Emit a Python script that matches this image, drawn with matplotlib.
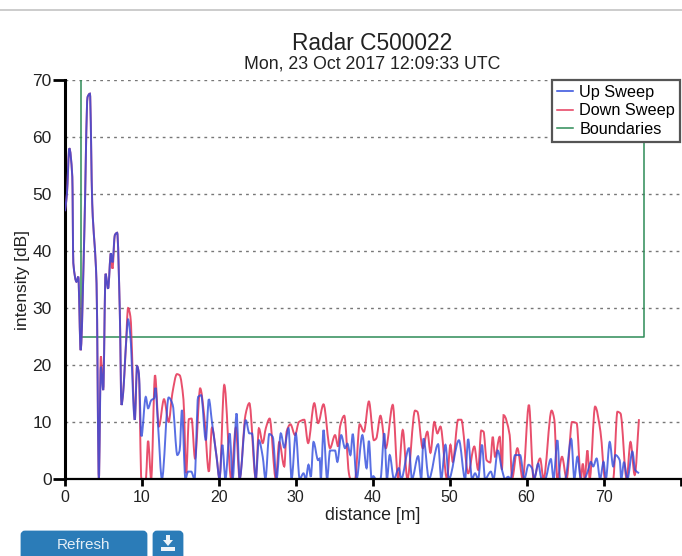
import matplotlib
matplotlib.use("Agg")
import matplotlib.pyplot as plt
from matplotlib.lines import Line2D
from matplotlib.patches import FancyBboxPatch, PathPatch, Polygon, Rectangle
from matplotlib.path import Path

plt.rcParams["font.family"] = ["Liberation Sans", "DejaVu Sans"]

# shared start of both sweeps
near_x = [0, 0.25, 0.56, 0.95, 1.08, 1.5, 1.73, 2.03, 2.5, 2.93, 3.24, 3.54, 4.1, 4.4]
near_y = [47, 50, 58, 53, 37.9, 34.6, 35.5, 22.6, 42.5, 67, 67.6, 48.3, 34.3, 0]

# up sweep
up_x = near_x + [4.66, 4.97, 5.27, 5.6, 5.96, 6.17, 6.48, 6.78, 7.12, 7.34, 7.55, 7.9, 8.2, 8.5, 9.07, 9.37, 9.6, 9.93,
                 10.5, 10.8, 11.2, 11.6, 11.75, 12.1, 12.6, 13.47, 14, 14.6, 14.9, 15.2, 15.65, 16, 16.4, 16.84,
                 17.3, 17.7, 18.3, 18.7, 19.1, 19.7, 20.08, 20.45, 20.85, 21.4, 21.8, 22.3, 22.7, 23.5, 23.96, 24.3,
                 24.8, 25.2, 25.7, 26.05, 26.55, 27, 27.5, 28.05, 28.5, 29.05, 29.45, 30, 30.5, 31, 31.3, 31.65,
                 31.95, 32.3, 32.9, 33.1, 33.25, 33.6, 34.07, 34.45, 35.1, 35.4, 35.9, 36.4, 36.7, 37.1, 37.4, 37.9,
                 38.65, 39.2, 39.5, 39.85, 40.07, 40.4, 41, 41.5, 41.85, 42.2, 42.75, 43.4, 43.7, 44.7, 45.1, 45.9,
                 46.3, 46.6, 47.3, 48.5, 48.9, 49.45, 49.9, 51.2, 52, 52.4, 52.9, 53.3, 53.7, 54.2, 54.6, 55.35,
                 55.7, 56.25, 56.8, 57.2, 57.6, 57.9, 58.5, 59.15, 59.7, 60.25, 60.7, 61, 61.5, 61.95, 62.4, 63.15,
                 63.5, 64, 64.35, 65, 65.8, 66.2, 66.6, 67.05, 67.5, 68, 68.35, 68.65, 69.1, 69.55, 70, 70.3, 70.8,
                 71.25, 71.55, 72.1, 72.3, 72.65, 73.1, 73.75, 74.1, 74.6]
up_y = near_y + [19.7, 15.6, 36, 33.4, 39.6, 38, 42.8, 43.2, 29.6, 13, 15, 23, 28, 25, 10.4, 19.8, 18.5, 7.5,
                 14.4, 12.4, 13.8, 14.2, 16, 9.3, 0, 14.3, 13, 4.2, 5, 12.1, 0, 1.3, 1.3, 0,
                 14.4, 14.7, 6.8, 14, 10, 3.9, 0, 6, 0, 8, 0, 11.5, 0, 10.3, 8, 8,
                 0, 6.8, 3.9, 0, 7.9, 7.4, 0, 8, 5.5, 8.9, 0, 8, 0, 1, 0, 2.5,
                 0.4, 6.5, 3.3, 3.6, 0, 8.6, 0, 5, 5, 3, 7.7, 5.4, 6.2, 4.2, 7.9, 0,
                 7.7, 1.9, 6.7, 0, 0.5, 0, 0, 8, 0, 4.2, 0, 1.9, 0, 5.4, 0, 4,
                 0, 7.1, 0, 6.1, 0, 6, 0, 6.8, 0, 7, 0, 1, 0, 6, 0, 1.3,
                 0, 5, 1.6, 0, 0.4, 0, 4.2, 4.2, 0, 2.5, 1.9, 0, 2.7, 0, 0, 3.5,
                 0, 6.8, 0, 0, 7, 0, 3.9, 0, 0, 1.6, 3, 2.2, 3.6, 0, 3, 0, 6.5,
                 2.2, 4.2, 3.3, 0, 2.9, 0, 4.8, 1.6, 1]

# down sweep
down_x = near_x + [4.66, 4.97, 5.27, 5.6, 5.96, 6.17, 6.48, 6.78, 7.12, 7.34, 7.55, 7.9, 8.2, 8.5, 9.07, 9.37, 9.6, 9.93,
                   10.5, 10.8, 11.2, 11.7, 12.2, 12.87, 13.47, 13.95, 14.55, 14.9, 15.4, 15.76, 16.1, 16.45, 16.9,
                   17.57, 18.1, 18.7, 19.1, 19.7, 20.08, 20.7, 21.6, 22.2, 22.7, 23.45, 23.96, 24.8, 25.2, 25.7, 26.1,
                   26.6, 27.4, 27.85, 28.5, 28.8, 29.3, 29.9, 30.4, 31.1, 31.6, 32.4, 32.9, 33.6, 34.45, 35.1, 35.5,
                   35.75, 36.3, 36.9, 37.1, 37.7, 38.3, 38.85, 39.5, 40.15, 40.45, 41, 41.7, 42.6, 43.3, 43.9, 44.5,
                   45.5, 45.8, 46.5, 47.1, 47.5, 48, 48.4, 48.8, 49.65, 50.1, 50.4, 51.1, 51.5, 52.4, 53.2, 53.7,
                   54.1, 54.4, 54.8, 55.27, 55.6, 55.9, 56.5, 56.8, 57, 57.8, 58.1, 58.8, 59.5, 60.3, 60.9, 61.75,
                   62.2, 63.25, 63.6, 64, 64.6, 65.2, 65.9, 66.5, 67.05, 67.3, 67.55, 67.9, 68.2, 68.9, 69.6, 70.2,
                   71.25, 71.8, 72.2, 73, 73.5, 74.05, 74.6]
down_y = near_y + [21.5, 15.6, 36, 33.4, 39.6, 36.9, 42.8, 43.2, 29.6, 13, 15, 23, 30, 28.5, 10.4, 19.8, 18.5, 0,
                   0, 6.7, 0, 18.2, 9.2, 14, 10, 15, 18.4, 18.2, 13.9, 1, 10.5, 10.6, 3.6,
                   15.9, 11, 1.3, 9, 3.9, 0, 16.5, 0, 9, 0, 11.2, 13.3, 0, 8.9, 6.3, 8.9,
                   10.6, 0, 6.5, 2.2, 8.3, 9.6, 7.7, 10, 10.4, 6.3, 13.3, 9.8, 13.1, 5.4, 7.7, 5.7,
                   9.2, 11.1, 1, 0, 0, 9.6, 8.3, 13.6, 6.8, 7.1, 11.1, 5.4, 13, 0, 8.6, 0,
                   12, 11.8, 5.4, 8.3, 4.6, 10, 8, 9.2, 0, 6, 3, 10.4, 10.4, 1, 5.7, 1.6,
                   8.5, 8.3, 3.3, 2.9, 7.4, 3.9, 7.4, 1.6, 11.2, 7.7, 0, 5.4, 0, 13, 0, 3.6,
                   0, 12, 10.4, 0, 3.9, 0, 10, 9.8, 0, 2.7, 0, 5, 0, 12.7, 8.3, 0,
                   0, 11.8, 11.5, 0, 6.5, 0.7, 10.5]

bound_x = [2.1, 2.1, 75.3, 75.3]
bound_y = [70, 25, 25, 70]

x_ticks = [0, 10, 20, 30, 40, 50, 60, 70, 80]
x_labels = ["0", "10", "20", "30", "40", "50", "60", "70", ""]
y_ticks = [0, 10, 20, 30, 40, 50, 60, 70]

UP_COLOR = "#2f4bdc"
DOWN_COLOR = "#e63c5c"
BOUND_COLOR = "#2e8b57"


def curve(xs, ys):
    # bezier path through the points, flat at every peak and valley
    slopes = [(ys[i + 1] - ys[i]) / (xs[i + 1] - xs[i]) for i in range(len(xs) - 1)]
    tang = [slopes[0]]
    for a, b in zip(slopes[:-1], slopes[1:]):
        tang.append(0 if a * b <= 0 else 2 * a * b / (a + b))
    tang.append(slopes[-1])
    verts = [(xs[0], ys[0])]
    codes = [Path.MOVETO]
    for i in range(len(xs) - 1):
        h = (xs[i + 1] - xs[i]) / 3
        verts += [(xs[i] + h, ys[i] + tang[i] * h), (xs[i + 1] - h, ys[i + 1] - tang[i + 1] * h), (xs[i + 1], ys[i + 1])]
        codes += [Path.CURVE4] * 3
    return Path(verts, codes)


W, H = 682, 556
fig = plt.figure(figsize=(W / 100, H / 100), dpi=100)
ax = fig.add_axes([65 / W, 1 - 479 / H, 615.5 / W, 399 / H])

ax.add_patch(PathPatch(curve(down_x, down_y), fc="none", ec=DOWN_COLOR, lw=1.4, alpha=0.9, zorder=3))
ax.add_patch(PathPatch(curve(up_x, up_y), fc="none", ec=UP_COLOR, lw=1.4, alpha=0.8, zorder=4))
ax.plot(bound_x, bound_y, color=BOUND_COLOR, lw=1.1, zorder=2)

ax.set_xlim(0, 80)
ax.set_ylim(0, 70)
ax.set_xticks(x_ticks)
ax.set_xticklabels(x_labels)
ax.set_yticks(y_ticks)
ax.set_yticks([0, 70], minor=True)
ax.yaxis.remove_overlapping_locs = False
ax.tick_params(axis="x", length=5, width=2, labelsize=11.5, labelcolor="#222222", pad=3)
ax.tick_params(axis="y", which="major", length=0, labelsize=12.5, labelcolor="#222222", pad=9.5)
ax.tick_params(axis="y", which="minor", length=9, width=2, color="black")
ax.grid(axis="y", color="#777777", ls=(0, (2, 3)), lw=1)
ax.set_axisbelow(True)

for s in ["top", "right"]:
    ax.spines[s].set_visible(False)
ax.spines["left"].set_linewidth(2.2)
ax.spines["bottom"].set_linewidth(1.6)
ax.spines["bottom"].set_zorder(6)

ax.set_xlabel("distance [m]", fontsize=12.8, color="#222222", labelpad=1)
ax.set_ylabel("intensity [dB]", fontsize=12.6, color="#222222", labelpad=1.5)

handles = [Line2D([], [], color=UP_COLOR, lw=1.1), Line2D([], [], color=DOWN_COLOR, lw=1.1),
           Line2D([], [], color=BOUND_COLOR, lw=1.1)]
leg = ax.legend(handles, ["Up Sweep", "Down Sweep", "Boundaries"],
                loc="upper right", bbox_to_anchor=(0.999, 1), borderaxespad=0, fancybox=False, framealpha=1,
                edgecolor="#555555", fontsize=11.7, handlelength=1.0, handletextpad=0.4, labelspacing=0.22,
                borderpad=0.3)
leg.get_frame().set_linewidth(1.6)
leg.set_zorder(10)

# page furniture around the chart, in pixel coordinates
over = fig.add_axes([0, 0, 1, 1], zorder=-1)
over.set_xlim(0, W)
over.set_ylim(H, 0)
over.axis("off")
over.plot([0, W], [10, 10], color="#c4c4c4", lw=1.2)
over.text(372, 43, "Radar C500022", ha="center", va="center", fontsize=16.4, color="#222222")
over.text(372, 64, "Mon, 23 Oct 2017 12:09:33 UTC", ha="center", va="center", fontsize=12.8, color="#222222")

blue = "#2b7cb8"
over.add_patch(FancyBboxPatch((22, 532), 124, 30, boxstyle="round,pad=0,rounding_size=3", fc=blue, ec=blue, lw=2))
over.add_patch(FancyBboxPatch((154, 532), 28, 30, boxstyle="round,pad=0,rounding_size=3", fc=blue, ec=blue, lw=2))
over.text(84, 545, "Refresh", ha="center", va="center", fontsize=11, color="#e4eef6")
over.add_patch(Polygon([(166, 535), (170, 535), (170, 540), (173, 540), (168, 546), (163, 540), (166, 540)], fc="#eef4f9", ec="none"))
over.add_patch(Rectangle((161, 547), 14, 4, fc="#eef4f9", ec="none"))

fig.savefig("out.png", dpi=100)
